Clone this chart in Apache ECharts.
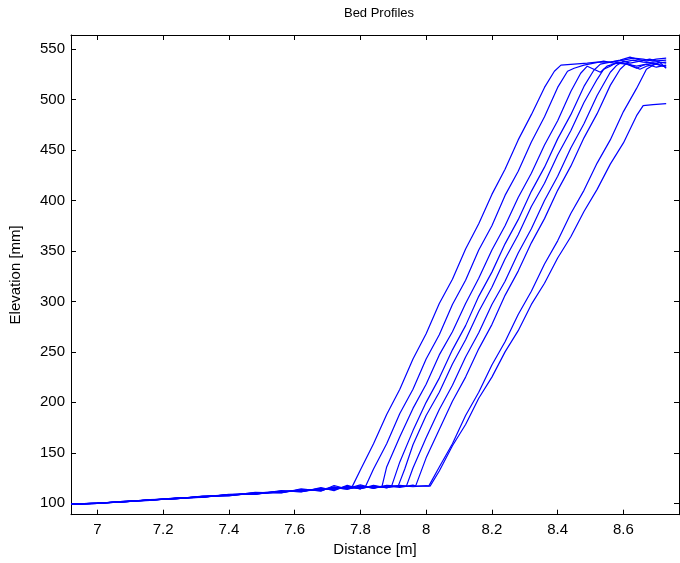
<!DOCTYPE html>
<html>
<head>
<meta charset="utf-8">
<title>Bed Profiles</title>
<script src="https://cdn.jsdelivr.net/npm/echarts@6/dist/echarts.min.js"></script>
<style>
  html, body { margin: 0; padding: 0; background: #fff; }
  #chart { width: 680px; height: 563px; }
</style>
</head>
<body>
<div id="chart"></div>
<script>
// Axis ranges and tick labels
const xRange = [6.92, 8.769];
const yRange = [88.7, 563.9];
const xTicks = [7, 7.2, 7.4, 7.6, 7.8, 8, 8.2, 8.4, 8.6];
const yTicks = [100, 150, 200, 250, 300, 350, 400, 450, 500, 550];

// Shared survey stations along the flat bed (m)
const bedX = [6.92, 7.00, 7.08, 7.16, 7.24, 7.32, 7.40, 7.48, 7.56, 7.62, 7.68, 7.72, 7.76, 7.80, 7.84, 7.88, 7.92, 7.96, 8.00];

// Bed elevations (mm) measured at bedX, one row per profile
const bed1 = [99.0, 100.3, 101.4, 103.6, 104.4, 107.2, 107.3, 110.8, 110.2, 114.4, 112.0, 117.6, 114.2];
const bed2 = [99.2, 99.9, 102.0, 102.8, 105.4, 105.9, 108.9, 108.8, 112.6, 111.2, 115.6, 112.6, 117.9, 114.1, 118.2];
const bed3 = [98.9, 100.2, 101.5, 103.5, 104.5, 106.9, 108.3, 110.3, 110.6, 113.6, 112.6, 116.4, 114.6, 118.3, 114.9, 117.6];
const bed4 = [98.8, 99.8, 101.9, 102.9, 105.2, 106.0, 108.7, 109.1, 112.2, 111.6, 114.8, 113.4, 116.9, 114.4, 117.7, 115.3, 117.9];
const bed5 = [99.1, 100.2, 101.3, 103.4, 104.6, 106.8, 107.6, 110.4, 111.0, 113.4, 113.0, 115.8, 113.9, 117.4, 114.8, 117.8, 115.6];
const bed6 = [99.2, 99.9, 101.8, 103.5, 104.5, 106.2, 108.6, 109.2, 111.7, 112.0, 114.5, 114.0, 116.6, 114.8, 117.0, 115.6, 117.9, 115.8];
const bed7 = [98.9, 100.2, 101.8, 103.0, 105.0, 106.7, 107.8, 110.1, 111.8, 111.8, 114.1, 115.6, 114.1, 116.8, 115.2, 117.2, 115.7, 118.0];
const bed8 = [99.0, 100.0, 101.6, 103.2, 104.8, 106.4, 108.0, 109.6, 111.2, 112.4, 113.6, 114.4, 115.0, 115.6, 116.0, 116.4, 116.7, 117.0, 117.3];
const bed9 = [99.1, 100.1, 101.5, 103.3, 104.9, 106.3, 108.4, 109.3, 111.6, 112.9, 113.0, 115.2, 115.8, 114.9, 116.7, 115.7, 117.4, 116.4, 117.4];

// Slope face and crest of each profile: [distance (m), elevation (mm)]
const face1 = [[7.776,117],[7.80,133],[7.84,159],[7.88,188],[7.92,213],[7.96,243],[8.00,268],[8.04,298],[8.08,322],[8.12,352],[8.16,377],[8.20,406],[8.24,431],[8.28,460],[8.32,485],[8.36,512],[8.39,528],[8.41,534],
  [8.45,535],[8.49,536],[8.52,537],[8.56,537],[8.60,539],[8.63,541],[8.66,540],[8.69,538],[8.73,539]];
const face2 = [[7.816,117],[7.84,134],[7.88,159],[7.92,189],[7.96,213],[8.00,243],[8.04,267],[8.08,297],[8.12,321],[8.16,351],[8.20,375],[8.24,405],[8.28,429],[8.32,458],[8.36,483],[8.40,512],[8.43,528],[8.45,531],
  [8.48,534],[8.51,536],[8.54,538],[8.57,536],[8.60,537],[8.63,539],[8.66,537],[8.70,536],[8.73,537]];
const face3 = [[7.866,117],[7.88,136],[7.92,166],[7.96,194],[8.00,218],[8.04,247],[8.08,270],[8.12,298],[8.16,323],[8.20,351],[8.24,375],[8.28,403],[8.32,427],[8.36,455],[8.40,479],[8.44,508],[8.47,526],[8.49,533],
  [8.51,530],[8.53,527],[8.55,533],[8.58,536],[8.61,535],[8.64,533],[8.67,535],[8.70,532],[8.73,534]];
const face4 = [[7.895,117],[7.92,141],[7.96,172],[8.00,200],[8.04,224],[8.08,252],[8.12,276],[8.16,305],[8.20,329],[8.24,357],[8.28,381],[8.32,409],[8.36,433],[8.40,461],[8.44,485],[8.48,513],[8.51,529],[8.53,535],
  [8.56,537],[8.59,539],[8.62,542],[8.64,540],[8.67,538],[8.70,540],[8.73,541]];
const face5 = [[7.915,117],[7.935,134],[7.96,158],[8.00,187],[8.04,210],[8.08,238],[8.12,262],[8.16,290],[8.20,314],[8.24,342],[8.28,366],[8.32,394],[8.36,417],[8.40,445],[8.44,469],[8.48,497],[8.52,520],[8.54,530],
  [8.56,533],[8.58,537],[8.61,535],[8.64,531],[8.66,534],[8.69,536],[8.73,532]];
const face6 = [[7.940,117],[7.96,135],[8.00,165],[8.04,193],[8.08,217],[8.12,245],[8.16,269],[8.20,297],[8.24,320],[8.28,348],[8.32,372],[8.36,400],[8.40,424],[8.44,452],[8.48,476],[8.52,504],[8.56,527],[8.58,534],
  [8.60,538],[8.62,536],[8.65,538],[8.68,540],[8.71,537],[8.73,536]];
const face7 = [[7.968,117],[8.00,145],[8.04,173],[8.08,201],[8.12,225],[8.16,253],[8.20,277],[8.24,306],[8.28,330],[8.32,358],[8.36,382],[8.40,410],[8.44,434],[8.48,462],[8.52,486],[8.56,514],[8.59,530],[8.61,536],
  [8.63,533],[8.65,530],[8.67,533],[8.70,535],[8.73,533]];
const face8 = [[8.008,117],[8.04,136],[8.08,159],[8.12,187],[8.16,210],[8.20,237],[8.24,260],[8.28,287],[8.32,310],[8.36,337],[8.40,360],[8.44,387],[8.48,410],[8.52,437],[8.56,460],[8.60,488],[8.64,511],[8.67,530],
  [8.69,534],[8.71,537],[8.73,531]];
const face9 = [[8.012,117],[8.04,132],[8.08,157],[8.12,178],[8.16,204],[8.20,225],[8.24,250],[8.28,271],[8.32,297],[8.36,318],[8.40,343],[8.44,364],[8.48,389],[8.52,411],[8.56,436],[8.60,457],[8.64,484],[8.66,494],
  [8.69,495],[8.73,496]];

const beds = [bed1, bed2, bed3, bed4, bed5, bed6, bed7, bed8, bed9];
const faces = [face1, face2, face3, face4, face5, face6, face7, face8, face9];

// Each profile: bed stations up to the toe, then the slope face
function profile(bed, face) {
  const toe = face[0][0];
  const pts = [];
  for (let i = 0; i < bed.length && bedX[i] < toe; i++) pts.push([bedX[i], bed[i]]);
  return pts.concat(face);
}

const font = 'Liberation Sans, Arial, Helvetica, sans-serif';
const tickFmt = v => String(Math.round(v * 10) / 10);

function xAxisDef(pos, labels) {
  return {
    type: 'value', position: pos, min: xRange[0], max: xRange[1],
    name: labels ? 'Distance [m]' : '', nameLocation: 'middle', nameGap: 28,
    nameTextStyle: { color: '#000', fontFamily: font, fontSize: 15 },
    axisLine: { show: true, onZero: false, lineStyle: { color: '#000', width: 1 } },
    axisTick: { show: true, inside: true, length: 5, customValues: xTicks, lineStyle: { color: '#000' } },
    axisLabel: { show: labels, customValues: xTicks, formatter: tickFmt, margin: 8, color: '#000', fontFamily: font, fontSize: 15 },
    splitLine: { show: false }
  };
}
function yAxisDef(pos, labels) {
  return {
    type: 'value', position: pos, min: yRange[0], max: yRange[1],
    name: labels ? 'Elevation [mm]' : '', nameLocation: 'middle', nameGap: 48,
    nameTextStyle: { color: '#000', fontFamily: font, fontSize: 15 },
    axisLine: { show: true, onZero: false, lineStyle: { color: '#000', width: 1 } },
    axisTick: { show: true, inside: true, length: 5, customValues: yTicks, lineStyle: { color: '#000' } },
    axisLabel: { show: labels, customValues: yTicks, formatter: tickFmt, margin: 6, color: '#000', fontFamily: font, fontSize: 15 },
    splitLine: { show: false }
  };
}

const chart = echarts.init(document.getElementById('chart'), null, { renderer: 'canvas' });
chart.setOption({
  animation: false,
  backgroundColor: '#fff',
  title: {
    text: 'Bed Profiles', left: 374, top: 2, textAlign: 'center',
    textStyle: { color: '#000', fontFamily: font, fontSize: 13, fontWeight: 'normal' }
  },
  grid: { left: 70, top: 35, right: 1, bottom: 48.3, containLabel: false },
  xAxis: [xAxisDef('bottom', true), xAxisDef('top', false)],
  yAxis: [yAxisDef('left', true), yAxisDef('right', false)],
  series: faces.map((f, i) => ({
    type: 'line',
    name: 'Profile ' + (i + 1),
    data: profile(beds[i], f),
    xAxisIndex: 0, yAxisIndex: 0,
    showSymbol: false, symbol: 'none',
    lineStyle: { color: '#0000ff', width: 1.2 },
    emphasis: { disabled: true }
  }))
});
</script>
</body>
</html>
